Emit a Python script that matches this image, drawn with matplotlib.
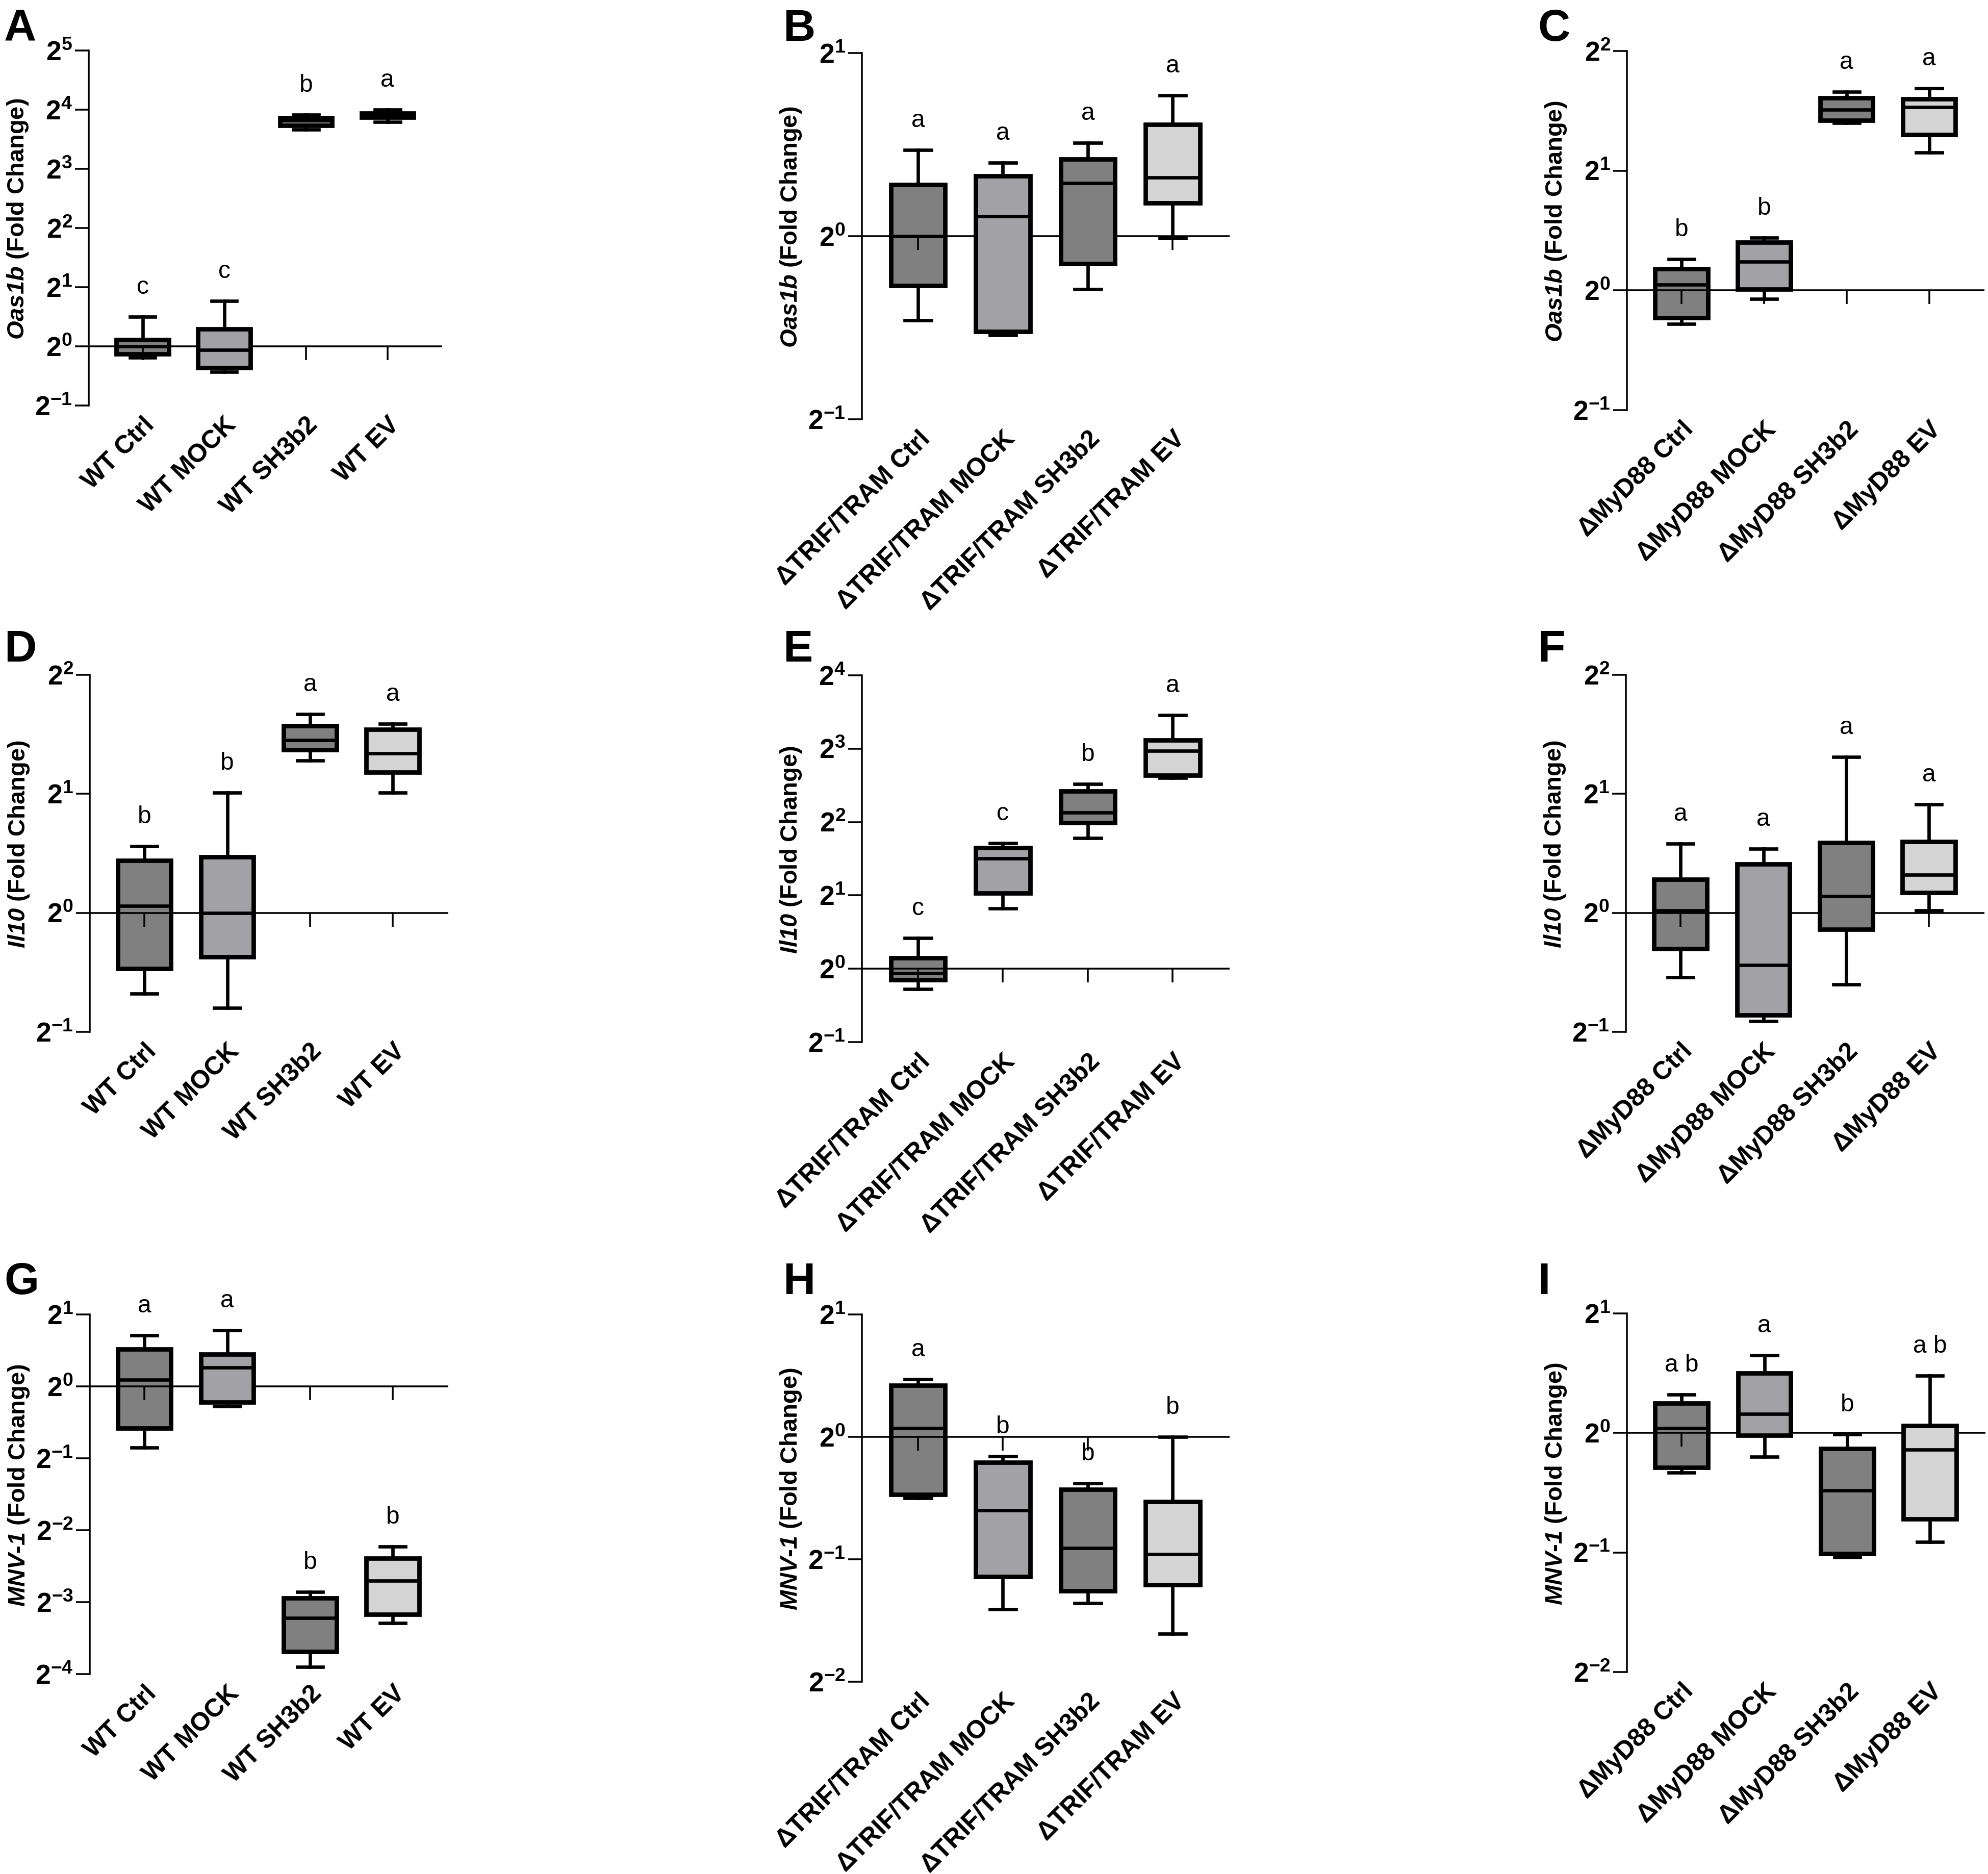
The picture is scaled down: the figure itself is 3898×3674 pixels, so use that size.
import numpy as np
import matplotlib
matplotlib.use("Agg")
import matplotlib.pyplot as plt

plt.rcParams["font.family"] = ["Liberation Sans", "DejaVu Sans"]
plt.rcParams["mathtext.fontset"] = "custom"
plt.rcParams["mathtext.rm"] = "Liberation Sans:italic:bold"
plt.rcParams["mathtext.it"] = "Liberation Sans:italic:bold"
plt.rcParams["mathtext.bf"] = "Liberation Sans:bold"

# groups on the x axis
wt_groups = ["WT Ctrl", "WT MOCK", "WT SH3b2", "WT EV"]
trif_groups = ["ΔTRIF/TRAM Ctrl", "ΔTRIF/TRAM MOCK", "ΔTRIF/TRAM SH3b2", "ΔTRIF/TRAM EV"]
myd88_groups = ["ΔMyD88 Ctrl", "ΔMyD88 MOCK", "ΔMyD88 SH3b2", "ΔMyD88 EV"]

# box stats in log2 units: [min, q1, median, q3, max]
oas1b_wt = [[-0.19, -0.13, 0.0, 0.11, 0.50], [-0.43, -0.36, -0.06, 0.29, 0.77],
            [3.66, 3.73, 3.82, 3.86, 3.91], [3.79, 3.87, 3.91, 3.94, 4.00]]
oas1b_trif = [[-0.46, -0.27, 0.0, 0.28, 0.47], [-0.54, -0.52, 0.11, 0.33, 0.40],
              [-0.29, -0.15, 0.29, 0.42, 0.51], [-0.01, 0.18, 0.32, 0.61, 0.77]]
oas1b_myd88 = [[-0.28, -0.23, 0.05, 0.18, 0.26], [-0.07, 0.01, 0.24, 0.40, 0.44],
               [1.40, 1.42, 1.51, 1.61, 1.66], [1.15, 1.30, 1.53, 1.60, 1.69]]
il10_wt = [[-0.68, -0.47, 0.06, 0.44, 0.56], [-0.80, -0.37, 0.0, 0.47, 1.01],
           [1.28, 1.37, 1.45, 1.57, 1.67], [1.01, 1.18, 1.34, 1.54, 1.59]]
il10_trif = [[-0.28, -0.15, -0.06, 0.15, 0.42], [0.82, 1.03, 1.50, 1.65, 1.71],
             [1.78, 1.99, 2.13, 2.42, 2.52], [2.60, 2.64, 2.97, 3.12, 3.46]]
il10_myd88 = [[-0.54, -0.30, 0.02, 0.28, 0.58], [-0.91, -0.86, -0.44, 0.41, 0.54],
              [-0.60, -0.14, 0.14, 0.59, 1.31], [0.02, 0.17, 0.32, 0.60, 0.91]]
mnv_wt = [[-0.85, -0.58, 0.09, 0.52, 0.71], [-0.28, -0.22, 0.26, 0.45, 0.78],
          [-3.90, -3.69, -3.22, -2.94, -2.86], [-3.29, -3.17, -2.70, -2.39, -2.23]]
mnv_trif = [[-0.50, -0.47, 0.07, 0.42, 0.47], [-1.41, -1.14, -0.60, -0.21, -0.16],
            [-1.36, -1.26, -0.91, -0.43, -0.38], [-1.61, -1.21, -0.96, -0.53, 0.0]]
mnv_myd88 = [[-0.33, -0.29, 0.04, 0.25, 0.32], [-0.20, -0.02, 0.16, 0.50, 0.65],
             [-1.04, -1.01, -0.48, -0.13, -0.01], [-0.91, -0.72, -0.14, 0.06, 0.48]]

# significance letters
let_a = ["c", "c", "b", "a"]
let_b = ["a", "a", "a", "a"]
let_c = ["b", "b", "a", "a"]
let_d = ["b", "b", "a", "a"]
let_e = ["c", "c", "b", "a"]
let_f = ["a", "a", "a", "a"]
let_g = ["a", "a", "b", "b"]
let_h = ["a", "b", "b", "b"]
let_i = ["a b", "a", "b", "a b"]

genes = {"oas": r"$\mathit{Oas1b}$ (Fold Change)",
         "il10": r"$\mathit{Il10}$ (Fold Change)",
         "mnv": r"$\mathit{MNV}$-$\mathit{1}$ (Fold Change)"}

fills = ["#808080", "#a2a2a6", "#808080", "#d4d4d4"]

W, H = 3898, 3674
fig = plt.figure(figsize=(W / 300, H / 300), dpi=300)


def draw_panel(rect, rows, groups, letters, ylab, ylo, yhi):
    left, right, top, bottom = rect
    ax = fig.add_axes([left / W, 1 - bottom / H, (right - left) / W, (bottom - top) / H])
    pos = np.arange(len(groups))
    stats = [dict(whislo=r[0], q1=r[1], med=r[2], q3=r[3], whishi=r[4], fliers=[]) for r in rows]
    bp = ax.bxp(stats, positions=pos, widths=0.64, capwidths=0.31, patch_artist=True,
                showfliers=False, manage_ticks=False,
                boxprops=dict(linewidth=2.1, edgecolor="black"),
                whiskerprops=dict(linewidth=1.6, color="black"),
                capprops=dict(linewidth=1.6, color="black"),
                medianprops=dict(linewidth=1.6, color="black"))
    for i, box in enumerate(bp["boxes"]):
        box.set_facecolor(fills[i])
        # the first box sits under the 2^0 line, the others above it
        z = 1.5 if i == 0 else 3
        box.set_zorder(z)
        bp["medians"][i].set_zorder(z + 0.1)
        for art in bp["whiskers"][2 * i:2 * i + 2] + bp["caps"][2 * i:2 * i + 2]:
            art.set_zorder(z)

    # x axis crossing at 2^0
    ax.axhline(0, color="black", lw=0.85, zorder=2)
    ax.plot(pos, np.zeros(len(pos)), linestyle="none", marker=3, markersize=6.4,
            markeredgewidth=0.85, color="black", zorder=2, clip_on=False)

    for p, r, t in zip(pos, rows, letters):
        ax.annotate(t, xy=(p, r[4]), xytext=(0, 10.8), textcoords="offset points",
                    ha="center", va="baseline", fontsize=11.5, annotation_clip=False)

    ax.set_xlim(-0.66, 3.67)
    ax.set_ylim(ylo, yhi)
    ax.set_yticks(range(ylo, yhi + 1))
    ax.set_yticklabels([r"$\mathbf{2^{%d}}$" % v for v in range(ylo, yhi + 1)])
    ax.tick_params(axis="y", length=6.4, width=0.85, pad=1.3, labelsize=12.8)

    ax.set_xticks(pos)
    ax.set_xticklabels(groups, rotation=45, ha="right", rotation_mode="anchor",
                       fontsize=12, fontweight="bold")
    ax.tick_params(axis="x", length=0, pad=3.5)

    for s in ["top", "right", "bottom"]:
        ax.spines[s].set_visible(False)
    ax.spines["left"].set_linewidth(0.85)

    ax.set_ylabel(ylab, fontsize=11.3, fontweight="bold")
    ax.yaxis.set_label_coords(-115 / (right - left), 0.5 + 18 / (bottom - top))
    return ax


panels = [
    ("A", (174, 867, 99, 795), oas1b_wt, wt_groups, let_a, genes["oas"], -1, 5),
    ("B", (1690, 2411, 104, 822), oas1b_trif, trif_groups, let_b, genes["oas"], -1, 1),
    ("C", (3190, 3891, 100, 804), oas1b_myd88, myd88_groups, let_c, genes["oas"], -1, 2),
    ("D", (176, 879, 1323, 2023), il10_wt, wt_groups, let_d, genes["il10"], -1, 2),
    ("E", (1690, 2411, 1324, 2043), il10_trif, trif_groups, let_e, genes["il10"], -1, 4),
    ("F", (3188, 3891, 1323, 2023), il10_myd88, myd88_groups, let_f, genes["il10"], -1, 2),
    ("G", (176, 879, 2577, 3282), mnv_wt, wt_groups, let_g, genes["mnv"], -4, 1),
    ("H", (1690, 2411, 2577, 3297), mnv_trif, trif_groups, let_h, genes["mnv"], -2, 1),
    ("I", (3190, 3893, 2575, 3278), mnv_myd88, myd88_groups, let_i, genes["mnv"], -2, 1),
]

letter_x = [8, 1535, 3015]
letter_y = [80, 1297, 2537]

for k, (tag, rect, rows, groups, letters, ylab, ylo, yhi) in enumerate(panels):
    draw_panel(rect, rows, groups, letters, ylab, ylo, yhi)
    fig.text(letter_x[k % 3] / W, 1 - letter_y[k // 3] / H, tag, fontsize=21,
             fontweight="bold", ha="left", va="baseline")

fig.savefig("out.png", dpi=300, facecolor="white")
